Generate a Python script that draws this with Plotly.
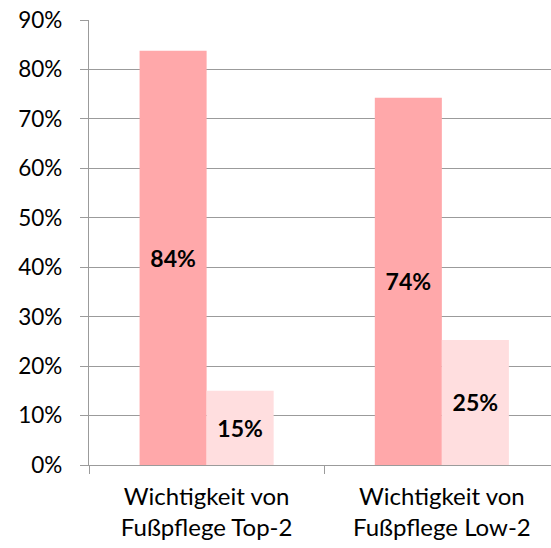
import plotly.graph_objects as go

categories = ["Wichtigkeit von<br>Fußpflege Top-2", "Wichtigkeit von<br>Fußpflege Low-2"]
series_a = [0.838, 0.743]
series_b = [0.15, 0.253]
y_ticks = [0, 0.1, 0.2, 0.3, 0.4, 0.5, 0.6, 0.7, 0.8, 0.9]

FONT = "Lato, Open Sans, sans-serif"

fig = go.Figure()
fig.add_bar(x=categories, y=series_a, marker_color="#FFA8AA", marker_line_width=0,
            texttemplate="%{y:.0%}", textposition="inside", insidetextanchor="middle",
            textangle=0, textfont=dict(family=FONT, size=23, color="black", weight="bold"))
fig.add_bar(x=categories, y=series_b, marker_color="#FFDEDF", marker_line_width=0,
            texttemplate="%{y:.0%}", textposition="inside", insidetextanchor="middle",
            textangle=0, textfont=dict(family=FONT, size=23, color="black", weight="bold"))

fig.update_layout(
    width=551, height=548,
    margin=dict(l=89, r=0, t=20, b=83, autoexpand=False),
    paper_bgcolor="white", plot_bgcolor="white",
    showlegend=False,
    barmode="group", bargap=0.43, bargroupgap=0,
    font=dict(family=FONT, size=22, color="black"),
)
fig.update_yaxes(range=[0, 0.9], tickvals=y_ticks, tickformat=".0%",
                 showgrid=True, gridcolor="#9b9b9b", gridwidth=1.3,
                 showline=True, linecolor="#9b9b9b", linewidth=1.3,
                 ticks="outside", ticklen=8, tickcolor="#9b9b9b", tickwidth=1.3,
                 ticklabelstandoff=13, zeroline=False, automargin=False,
                 ticklabeloverflow="allow",
                 tickfont=dict(family=FONT, size=22.5, color="black"))
fig.update_xaxes(range=[-0.5, 1.464], showline=True, linecolor="#9b9b9b", linewidth=1.3,
                 ticks="outside", tickson="boundaries", ticklen=8, tickcolor="#9b9b9b",
                 tickwidth=1.3, showgrid=False, automargin=False, ticklabelstandoff=10,
                 ticklabeloverflow="allow",
                 tickfont=dict(family=FONT, size=24, color="black"))

fig.write_html("out.html", config={"displayModeBar": False},
               post_script="document.body.style.margin='0';")
